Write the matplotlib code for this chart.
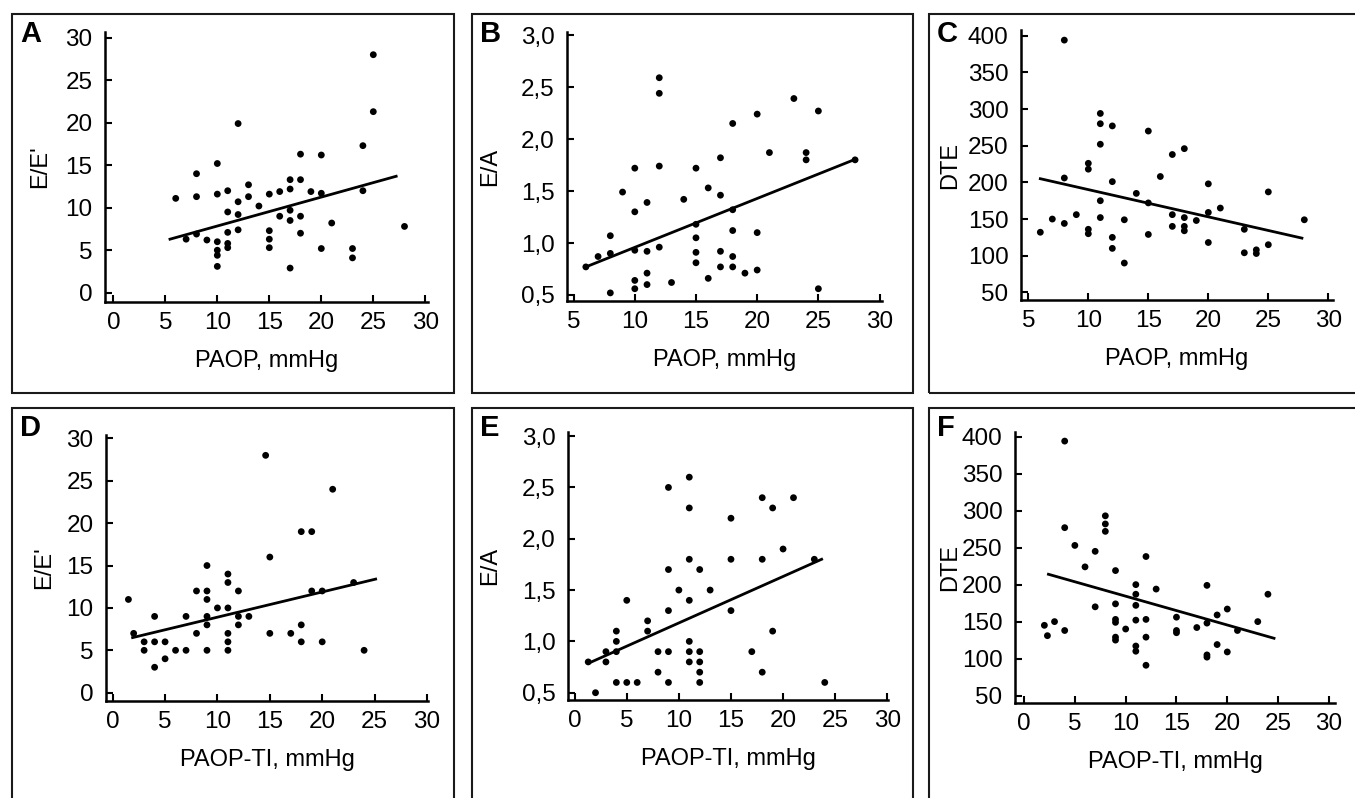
import matplotlib
matplotlib.use('Agg')
import matplotlib.pyplot as plt
from matplotlib.patches import Rectangle

W, H = 1355, 798

# Panel A: E/E' vs PAOP
a_x = [6, 7, 8, 8, 8, 9, 10, 10, 10, 10, 10, 10, 11, 11, 11, 11, 11, 12, 12, 12, 12, 13, 13, 14, 15, 15, 15, 15,
       16, 16, 17, 17, 17, 17, 17, 18, 18, 18, 18, 19, 20, 20, 20, 21, 23, 23, 24, 24, 25, 25, 28]
a_y = [11.1, 6.3, 6.9, 11.3, 14.0, 6.2, 15.2, 11.6, 6.0, 5.0, 4.4, 3.1, 12.0, 9.5, 7.1, 5.8, 5.3, 19.9, 10.7, 9.2,
       7.4, 12.7, 11.3, 10.2, 11.6, 7.3, 6.3, 5.3, 11.9, 9.0, 13.3, 12.2, 9.7, 8.5, 2.9, 16.3, 13.3, 9.0, 7.0, 11.9,
       16.2, 11.7, 5.2, 8.2, 5.2, 4.1, 17.3, 12.0, 28.0, 21.3, 7.8]
a_fit_x = [5.45, 27.2]
a_fit_y = [6.3, 13.7]

# Panel B: E/A vs PAOP
b_x = [6, 7, 8, 8, 8, 9, 10, 10, 10, 10, 10, 11, 11, 11, 11, 12, 12, 12, 12, 13, 14, 15, 15, 15, 15, 15, 16, 16,
       17, 17, 17, 17, 18, 18, 18, 18, 18, 19, 20, 20, 20, 21, 23, 24, 24, 25, 25, 28]
b_y = [0.77, 0.87, 0.90, 1.07, 0.52, 1.49, 1.72, 1.30, 0.93, 0.64, 0.56, 1.39, 0.92, 0.71, 0.60, 2.59, 2.44, 1.74,
       0.96, 0.62, 1.42, 1.72, 1.18, 1.05, 0.91, 0.81, 1.53, 0.66, 1.82, 1.46, 0.92, 0.77, 2.15, 1.32, 1.12, 0.87,
       0.77, 0.71, 2.24, 1.10, 0.74, 1.87, 2.39, 1.87, 1.80, 2.27, 0.56, 1.80]
b_fit_x = [6.0, 27.9]
b_fit_y = [0.77, 1.80]

# Panel C: DTE vs PAOP
c_x = [6, 7, 8, 8, 8, 9, 10, 10, 10, 10, 11, 11, 11, 11, 11, 12, 12, 12, 12, 13, 13, 14, 15, 15, 15, 16, 17, 17,
       17, 18, 18, 18, 18, 19, 20, 20, 20, 21, 23, 23, 24, 24, 25, 25, 28]
c_y = [132, 150, 394, 206, 144, 156, 226, 218, 136, 130, 294, 280, 252, 175, 152, 277, 201, 125, 110, 90, 149, 185,
       270, 172, 129, 208, 238, 156, 140, 246, 152, 140, 134, 148, 198, 159, 118, 165, 136, 104, 108, 103, 187,
       115, 149]
c_fit_x = [6.0, 27.8]
c_fit_y = [205, 124]

# Panel D: E/E' vs PAOP-TI
d_x = [1.5, 2, 3, 3, 4, 4, 4, 5, 5, 6, 7, 7, 8, 8, 9, 9, 9, 9, 9, 9, 10, 11, 11, 11, 11, 11, 11, 12, 12, 12, 13,
       14.6, 15, 15, 17, 18, 18, 18, 19, 19, 20, 20, 21, 23, 24]
d_y = [11, 7, 6, 5, 9, 6, 3, 6, 4, 5, 9, 5, 12, 7, 15, 12, 11, 9, 8, 5, 10, 14, 13, 10, 7, 6, 5, 12, 9, 8, 9, 28,
       16, 7, 7, 19, 8, 6, 19, 12, 12, 6, 24, 13, 5]
d_fit_x = [1.9, 25.1]
d_fit_y = [6.5, 13.4]

# Panel E: E/A vs PAOP-TI
e_x = [1.3, 2, 3, 3, 4, 4, 4, 4, 5, 5, 6, 7, 7, 8, 8, 9, 9, 9, 9, 9, 10, 11, 11, 11, 11, 11, 11, 11, 12, 12, 12,
       12, 12, 13, 15, 15, 15, 17, 18, 18, 18, 19, 19, 20, 21, 23, 24]
e_y = [0.8, 0.5, 0.8, 0.9, 1.1, 1.0, 0.9, 0.6, 1.4, 0.6, 0.6, 1.2, 1.1, 0.9, 0.7, 2.5, 1.7, 1.3, 0.9, 0.6, 1.5,
       2.6, 2.3, 1.8, 1.4, 1.0, 0.9, 0.8, 1.7, 0.9, 0.8, 0.7, 0.6, 1.5, 2.2, 1.8, 1.3, 0.9, 2.4, 1.8, 0.7, 2.3,
       1.1, 1.9, 2.4, 1.8, 0.6]
e_fit_x = [1.5, 23.7]
e_fit_y = [0.795, 1.80]

# Panel F: DTE vs PAOP-TI
f_x = [2, 2.3, 3, 4, 4, 4, 5, 6, 7, 7, 8, 8, 8, 9, 9, 9, 9, 9, 9, 10, 11, 11, 11, 11, 11, 11, 12, 12, 12, 12, 13,
       15, 15, 15, 17, 18, 18, 18, 18, 19, 19, 20, 20, 21, 23, 24]
f_y = [145, 131, 150, 394, 277, 138, 253, 224, 245, 170, 293, 282, 272, 219, 174, 153, 149, 129, 125, 140, 200,
       187, 172, 152, 117, 110, 238, 153, 129, 91, 194, 156, 138, 135, 142, 199, 148, 105, 102, 159, 119, 167,
       109, 138, 150, 187]
f_fit_x = [2.4, 24.6]
f_fit_y = [214, 127.5]

# ticks
x_ticks_0 = [0, 5, 10, 15, 20, 25, 30]
x_ticks_5 = [5, 10, 15, 20, 25, 30]
ee_ticks = [0, 5, 10, 15, 20, 25, 30]
ea_ticks = [0.5, 1.0, 1.5, 2.0, 2.5, 3.0]
ea_labels = ['0,5', '1,0', '1,5', '2,0', '2,5', '3,0']
dte_ticks = [50, 100, 150, 200, 250, 300, 350, 400]

plt.rcParams['font.family'] = ['Liberation Sans', 'DejaVu Sans']


def draw_box(fig, x0, y0, x1, y1, letter):
    rect = Rectangle((x0 / W, 1 - y1 / H), (x1 - x0) / W, (y1 - y0) / H, transform=fig.transFigure,
                     fill=False, lw=1.5, ec='#1a1a1a')
    fig.add_artist(rect)
    fig.text((x0 + 8) / W, 1 - (y0 + 6) / H, letter, ha='left', va='top', fontsize=21, fontweight='bold')


def panel(fig, rect, xlim, ylim, x, y, fit_x, fit_y, xticks, yticks, ylabels, xlabel, ylabel, ylab_px):
    left, top, right, bottom = rect
    ax = fig.add_axes([left / W, 1 - bottom / H, (right - left) / W, (bottom - top) / H])
    ax.scatter(x, y, s=24, color='black', edgecolors='none', zorder=3)
    ax.plot(fit_x, fit_y, color='black', lw=2.0, zorder=2)
    ax.set_xlim(xlim)
    ax.set_ylim(ylim)
    ax.set_xticks(xticks)
    ax.set_xticklabels([str(t) for t in xticks])
    ax.set_yticks(yticks)
    ax.set_yticklabels(ylabels)
    for s in ['top', 'right']:
        ax.spines[s].set_visible(False)
    for s in ['left', 'bottom']:
        ax.spines[s].set_linewidth(1.8)
    ax.tick_params(axis='both', direction='in', length=5, width=1.5, labelsize=17.5)
    ax.tick_params(axis='y', pad=9)
    ax.tick_params(axis='x', pad=7)
    ax.set_xlabel(xlabel, fontsize=17, labelpad=12)
    ax.set_ylabel(ylabel, fontsize=17)
    ax.yaxis.set_label_coords((ylab_px - left) / (right - left), 0.5)
    ax.yaxis.label.set_va('center')
    ax.patch.set_alpha(0)
    return ax


fig = plt.figure(figsize=(W / 100, H / 100), dpi=100)

draw_box(fig, 12, 14, 454, 393, 'A')
draw_box(fig, 472, 14, 913, 393, 'B')
draw_box(fig, 929, 14, 1371, 393, 'C')
draw_box(fig, 12, 408, 454, 830, 'D')
draw_box(fig, 472, 408, 913, 830, 'E')
draw_box(fig, 929, 408, 1371, 830, 'F')

panel(fig, (105, 32, 428, 302), (-0.8, 30.26), (-1.09, 30.67), a_x, a_y, a_fit_x, a_fit_y,
      x_ticks_0, ee_ticks, [str(t) for t in ee_ticks], 'PAOP, mmHg', "E/E'", 40)
panel(fig, (567, 32, 882, 301), (4.46, 30.2), (0.442, 3.03), b_x, b_y, b_fit_x, b_fit_y,
      x_ticks_5, ea_ticks, ea_labels, 'PAOP, mmHg', 'E/A', 490)
panel(fig, (1021, 30, 1333, 300), (4.39, 30.39), (39.6, 407.8), c_x, c_y, c_fit_x, c_fit_y,
      x_ticks_5, dte_ticks, [str(t) for t in dte_ticks], 'PAOP, mmHg', 'DTE', 950)
panel(fig, (106, 435, 428, 701), (-0.64, 30.1), (-0.98, 30.4), d_x, d_y, d_fit_x, d_fit_y,
      x_ticks_0, ee_ticks, [str(t) for t in ee_ticks], 'PAOP-TI, mmHg', "E/E'", 44)
panel(fig, (568, 432, 888, 700), (-0.64, 30.07), (0.429, 3.04), e_x, e_y, e_fit_x, e_fit_y,
      x_ticks_0, ea_ticks, ea_labels, 'PAOP-TI, mmHg', 'E/A', 490)
panel(fig, (1015, 432, 1335, 703), (-0.89, 30.6), (40, 406.3), f_x, f_y, f_fit_x, f_fit_y,
      x_ticks_0, dte_ticks, [str(t) for t in dte_ticks], 'PAOP-TI, mmHg', 'DTE', 950)

plt.savefig('out.png', dpi=100)
